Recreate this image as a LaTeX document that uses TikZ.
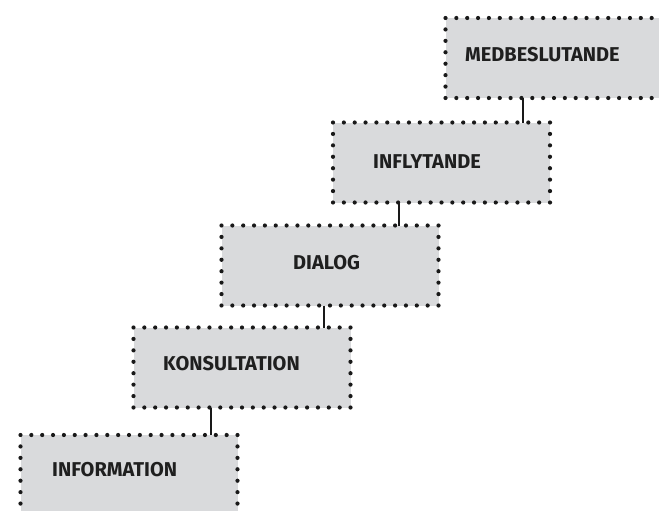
\documentclass[tikz,border=0pt]{standalone}
\usepackage{fontspec}
\usetikzlibrary{calc}
\setmainfont{Fira Sans}[BoldFont={Fira Sans Bold}]
\newcommand{\dotframe}[1]{%
  \foreach \i in {0,...,20} {
    \fill[dotcol] ($(#1.north west)!\i/20!(#1.north east)$) circle (2.1pt);
    \fill[dotcol] ($(#1.south west)!\i/20!(#1.south east)$) circle (2.1pt);
  }
  \foreach \j in {1,...,6} {
    \fill[dotcol] ($(#1.north west)!\j/7!(#1.south west)$) circle (2.1pt);
    \fill[dotcol] ($(#1.north east)!\j/7!(#1.south east)$) circle (2.1pt);
  }}
\begin{document}
\begin{tikzpicture}[x=1pt,y=-1pt,
  stepbox/.style={fill=boxgray, minimum width=217pt, minimum height=80pt,
    inner sep=0pt, outer sep=0pt},
  dotcol/.style={fill=black!90},
  steptext/.style={font=\bfseries\fontsize{20}{22}\selectfont, text=black!88, anchor=west, inner sep=0pt},
  link/.style={draw=black!90, line width=2.4pt}]
\definecolor{boxgray}{HTML}{D9DADC}
\useasboundingbox (0,0) rectangle (659,511);
\clip (0,0) rectangle (659,511);
\node[stepbox] (med) at (554,58) {};
\node[stepbox] (inf) at (441.5,162.5) {};
\node[stepbox] (dia) at (330,265.5) {};
\node[stepbox] (kon) at (242,367.5) {};
\node[stepbox] (info) at (129,475) {};
\coordinate (x1) at (523,0);
\coordinate (x2) at (399,0);
\coordinate (x3) at (324,0);
\coordinate (x4) at (211,0);
\draw[link] (med.south -| x1) -- (inf.north -| x1);
\draw[link] (inf.south -| x2) -- (dia.north -| x2);
\draw[link] (dia.south -| x3) -- (kon.north -| x3);
\draw[link] (kon.south -| x4) -- (info.north -| x4);
\dotframe{med}
\dotframe{inf}
\dotframe{dia}
\dotframe{kon}
\dotframe{info}
\node[steptext] (tmed) at (465,55) {MEDBESLUTANDE};
\node[steptext] (tinf) at (373,162) {INFLYTANDE};
\node[steptext] (tdia) at (293,263) {DIALOG};
\node[steptext] (tkon) at (163,364) {KONSULTATION};
\node[steptext] (tinfo) at (52,470) {INFORMATION};
\end{tikzpicture}
\end{document}
